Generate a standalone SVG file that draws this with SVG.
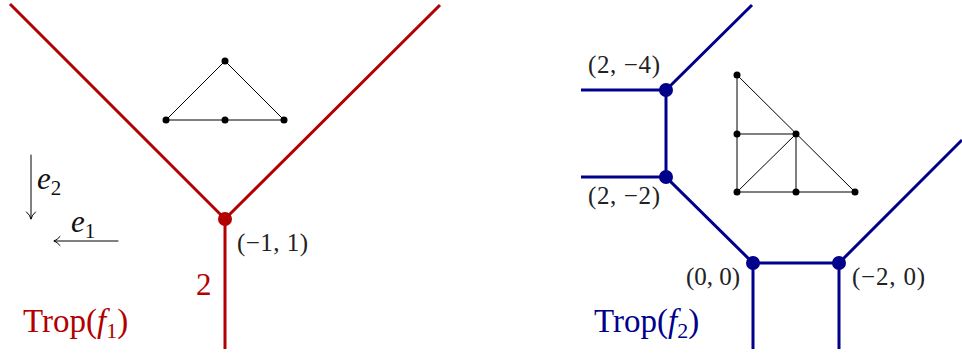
<svg xmlns="http://www.w3.org/2000/svg" width="962" height="354" viewBox="0 0 962 354">
<style>
  .red { stroke: #b30000; stroke-width: 3; fill: none; stroke-linecap: butt; }
  .blue { stroke: #00008b; stroke-width: 3; fill: none; }
  .thin { stroke: #000; stroke-width: 1; fill: none; }
  .arr { stroke: #000; stroke-width: 1; fill: none; stroke-linecap: round; }
  .dot { fill: #000; }
  text { font-family: "Liberation Serif", "DejaVu Serif", serif; }
  .lab { font-size: 25px; fill: #222; }
  .it { font-style: italic; }
</style>
<rect width="962" height="354" fill="#fff"/>

<g id="connectors">
  <path class="red" d="M10,4 L225,219 L440,5 M225,219 L225,349"/>
  <path class="blue" d="M581,90 L666,90 L752,5 M581,177 L666,177 M666,90 L666,177 L753,263 L839,263 L962,140 M753,263 L753,349 M839,263 L839,349"/>
  <path class="thin" d="M166,120 L284,120 L225,61 Z"/>
  <path class="thin" d="M737,75 L737,192 L855,192 Z M737,134 L796,134 L796,192 M737,192 L796,134"/>
  <path class="arr" d="M31,155 L31,219 M26.5,212 Q30,215 31,219 Q32,215 35.5,212"/>
  <path class="arr" d="M118,241 L54,241 M60,236.5 Q57,240 54,241 Q57,242 60,245.5"/>
</g>

<g id="left-vertex"><circle cx="225" cy="219" r="7" fill="#b30000"/></g>
<g id="newton-left">
  <circle class="dot" cx="225" cy="61" r="3.5"/>
  <circle class="dot" cx="166" cy="120" r="3.5"/>
  <circle class="dot" cx="225" cy="120" r="3.5"/>
  <circle class="dot" cx="284" cy="120" r="3.5"/>
</g>
<g id="v-2m4"><circle cx="666" cy="90" r="7" fill="#00008b"/></g>
<g id="v-2m2"><circle cx="666" cy="177" r="7" fill="#00008b"/></g>
<g id="v-00"><circle cx="753" cy="263" r="7" fill="#00008b"/></g>
<g id="v-m20"><circle cx="839" cy="263" r="7" fill="#00008b"/></g>
<g id="newton-right">
  <circle class="dot" cx="737" cy="75" r="3.5"/>
  <circle class="dot" cx="737" cy="134" r="3.5"/>
  <circle class="dot" cx="796" cy="134" r="3.5"/>
  <circle class="dot" cx="737" cy="192" r="3.5"/>
  <circle class="dot" cx="796" cy="192" r="3.5"/>
  <circle class="dot" cx="855" cy="192" r="3.5"/>
</g>

<g id="labels">
  <text x="37" y="189" font-size="31" fill="#111"><tspan class="it">e</tspan><tspan font-size="21" dy="6">2</tspan></text>
  <text x="71" y="232" font-size="31" fill="#111"><tspan class="it">e</tspan><tspan font-size="21" dy="6">1</tspan></text>
  <text class="lab" x="237" y="251" textLength="71" lengthAdjust="spacing">(−1, 1)</text>
  <text x="196" y="295" font-size="31" fill="#b30000">2</text>
  <text x="23" y="332" font-size="33" fill="#b30000">Trop(<tspan class="it">f</tspan><tspan font-size="22" dy="6">1</tspan><tspan dy="-6">)</tspan></text>
  <text class="lab" x="588" y="73" textLength="72" lengthAdjust="spacing">(2, −4)</text>
  <text class="lab" x="588" y="204" textLength="72" lengthAdjust="spacing">(2, −2)</text>
  <text class="lab" x="686" y="285" textLength="54" lengthAdjust="spacing">(0, 0)</text>
  <text class="lab" x="852" y="285" textLength="73" lengthAdjust="spacing">(−2, 0)</text>
  <text x="594" y="332" font-size="33" fill="#00008b">Trop(<tspan class="it">f</tspan><tspan font-size="22" dy="6">2</tspan><tspan dy="-6">)</tspan></text>
</g>
</svg>
